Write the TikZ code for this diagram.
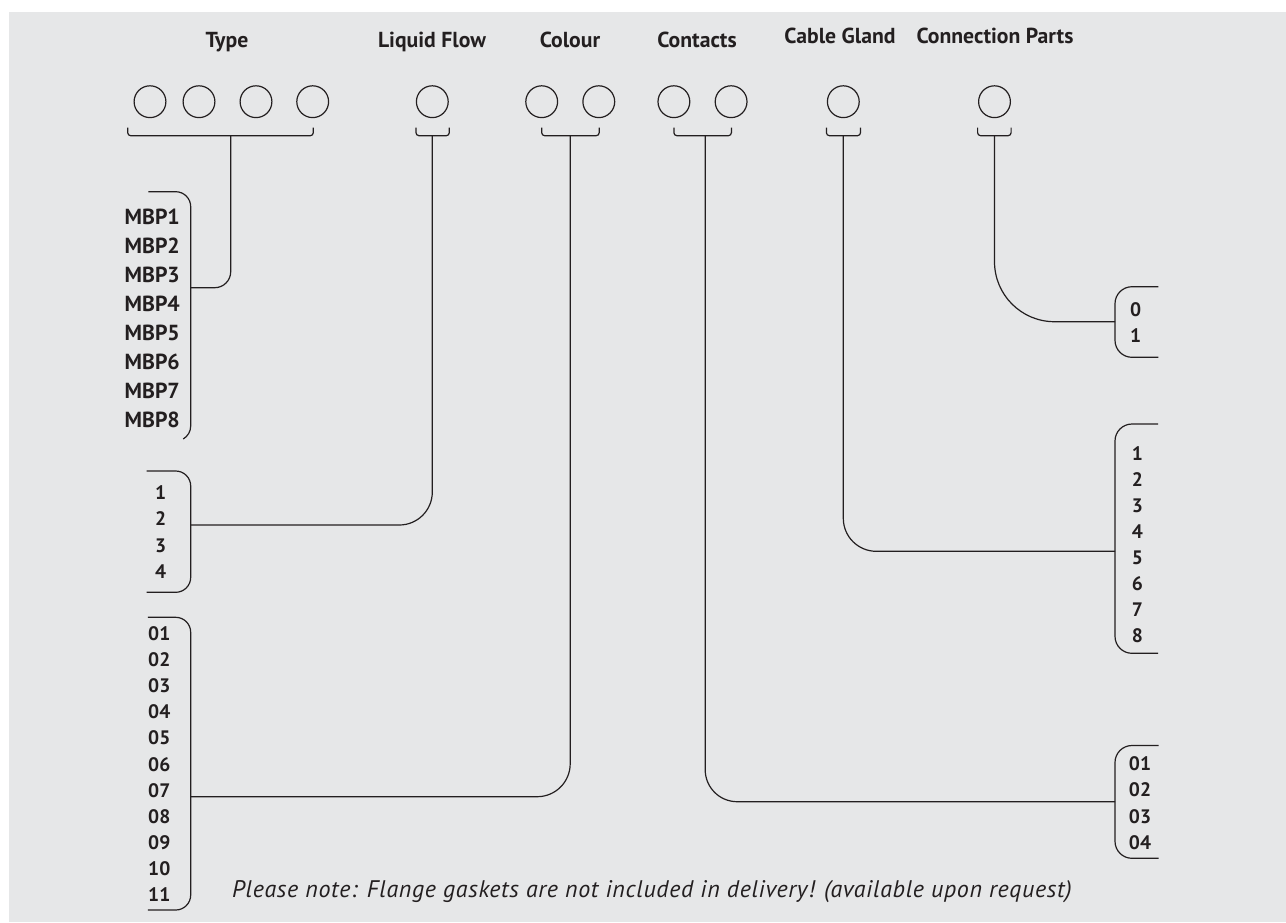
\documentclass[tikz,border=0pt]{standalone}
\usepackage{fontspec}
\setmainfont{PT Sans}
\newfontfamily\notefont{PT Sans}[LetterSpace=2.8]
\definecolor{bg}{HTML}{E6E7E8}
\definecolor{ink}{HTML}{231F20}
\begin{document}
\begin{tikzpicture}[x=1pt,y=-1pt]
\tikzset{
  head/.style={font=\fontsize{21.7}{25}\selectfont\bfseries, text=ink, anchor=base, inner sep=0pt},
  lab/.style={font=\fontsize{19.5}{23}\selectfont\bfseries, text=ink, anchor=base, inner sep=0pt},
  mbp/.style={font=\fontsize{21.8}{25}\selectfont\bfseries, text=ink, anchor=base west, inner sep=0pt},
  ring/.style={circle, draw=ink, line width=1.2pt, minimum size=31.8pt, inner sep=0pt},
  wire/.style={draw=ink, line width=1.2pt},
  brk/.style={wire, rounded corners=3pt},
  note/.style={font=\notefont\fontsize{24}{28}\selectfont\itshape, text=ink, anchor=base west, inner sep=0pt}
}
\useasboundingbox (0,0) rectangle (1286,922);
\fill[bg] (9,12) rectangle (1286,922);

% headers
\node[head] (hType) at (227,47.7) {Type};
\node[head] (hLF) at (432,47.7) {Liquid Flow};
\node[head] (hCol) at (570,47.7) {Colour};
\node[head] (hCon) at (697,47.7) {Contacts};
\node[head] (hCG) at (840,43.7) {Cable Gland};
\node[head] (hCP) at (995,43.7) {Connection Parts};

% circles
\node[ring] (t1) at (150,101.7) {};
\node[ring] (t2) at (199,101.7) {};
\node[ring] (t3) at (256,101.7) {};
\node[ring] (t4) at (312.7,101.7) {};
\node[ring] (lf1) at (432.3,101.7) {};
\node[ring] (c1) at (541.7,101.7) {};
\node[ring] (c2) at (598.8,101.7) {};
\node[ring] (k1) at (673.9,101.7) {};
\node[ring] (k2) at (731.1,101.7) {};
\node[ring] (g1) at (843.3,101.7) {};
\node[ring] (p1) at (994.5,101.7) {};

% small brackets under circles
\coordinate (bTa) at (127.7,127.7); \coordinate (bTb) at (313.3,127.7); \coordinate (sT) at (230.7,135.7);
\coordinate (bLa) at (416,127.7);   \coordinate (bLb) at (449.3,127.7); \coordinate (sL) at (432.3,135.7);
\coordinate (bCa) at (541.7,127.7); \coordinate (bCb) at (599.2,127.7); \coordinate (sC) at (570.2,135.7);
\coordinate (bKa) at (673.9,127.7); \coordinate (bKb) at (731.4,127.7); \coordinate (sK) at (705.2,135.7);
\coordinate (bGa) at (826.4,127.7); \coordinate (bGb) at (860.5,127.7); \coordinate (sG) at (843.3,135.7);
\coordinate (bPa) at (977.6,127.7); \coordinate (bPb) at (1011.1,127.7); \coordinate (sP) at (994.5,135.7);
\foreach \b in {T,L,C,K,G,P}{
  \draw[brk] (b\b a) |- (s\b) -| (b\b b);
}

% list ends
\coordinate (eT) at (190.7,287.7);
\coordinate (eL) at (190.7,525);
\coordinate (eC) at (190.7,796.7);
\coordinate (eK) at (1115,801.7);
\coordinate (eG) at (1115,551.3);
\coordinate (eP) at (1115,321.7);

% connectors
\draw[wire, rounded corners=16pt] (sT) |- (eT);
\draw[wire, rounded corners=33pt] (sL) |- (eL);
\draw[wire, rounded corners=33pt] (sC) |- (eC);
\draw[wire, rounded corners=32pt] (sK) |- (eK);
\draw[wire, rounded corners=33pt] (sG) |- (eG);
\draw[wire, rounded corners=60pt] (sP) |- (eP);

% left list brackets
\draw[wire, rounded corners=15pt] (148.3,191.7) -- (190.7,191.7) -- (190.7,426);
\draw[wire] (190.7,426) arc[start angle=0, end angle=60, radius=15];
\draw[wire, rounded corners=15pt] (146.7,471) -- (190.7,471) -- (190.7,592.3) -- (146.7,592.3);
\draw[wire, rounded corners=15pt] (147.8,617.3) -- (190.7,617.3) -- (190.7,910) -- (147.8,910);

% right list brackets
\draw[wire, rounded corners=17pt] (1158.3,286.7) -- (1115,286.7) -- (1115,357.3) -- (1158.3,357.3);
\draw[wire, rounded corners=17pt] (1158,424) -- (1115,424) -- (1115,653.3) -- (1158,653.3);
\draw[wire, rounded corners=17pt] (1158.5,745.5) -- (1115,745.5) -- (1115,858.3) -- (1158.5,858.3);

% labels
\foreach \t [count=\i] in {MBP1,MBP2,MBP3,MBP4,MBP5,MBP6,MBP7,MBP8}
  \node[mbp] (m\i) at (124.5,{224+29.04*(\i-1)}) {\t};
\foreach \t [count=\i] in {1,2,3,4}
  \node[lab] (l\i) at (160.7,{499+26.5*(\i-1)}) {\t};
\foreach \t [count=\i] in {01,02,03,04,05,06,07,08,09,10,11}
  \node[lab] (co\i) at (159.3,{640.5+26.1*(\i-1)}) {\t};
\foreach \t [count=\i] in {0,1}
  \node[lab] (cp\i) at (1135.7,{316+26.7*(\i-1)}) {\t};
\foreach \t [count=\i] in {1,2,3,4,5,6,7,8}
  \node[lab] (cg\i) at (1137.3,{460.5+26*(\i-1)}) {\t};
\foreach \t [count=\i] in {01,02,03,04}
  \node[lab] (ct\i) at (1140,{770.5+26.4*(\i-1)}) {\t};

\node[note] (nt) at (232,897.5) {Please note: Flange gaskets are not included in delivery! (available upon request)};
\end{tikzpicture}
\end{document}
